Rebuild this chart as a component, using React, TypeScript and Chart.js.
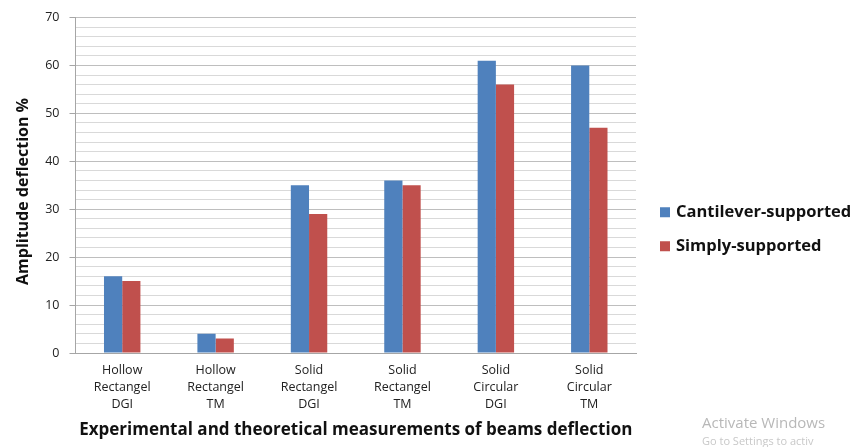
import React, { useEffect, useRef } from "react";
import { Chart, registerables } from "chart.js";

Chart.register(...registerables);

const categories: string[][] = [
  ["Hollow", "Rectangel", "DGI"],
  ["Hollow", "Rectangel", "TM"],
  ["Solid", "Rectangel", "DGI"],
  ["Solid", "Rectangel", "TM"],
  ["Solid", "Circular", "DGI"],
  ["Solid", "Circular", "TM"],
];
const cantilever: number[] = [16, 4, 35, 36, 61, 60];
const simply: number[] = [15, 3, 29, 35, 56, 47];
const seriesNames: string[] = ["Cantilever-supported", "Simply-supported"];
const seriesColors: string[] = ["#4F81BD", "#C0504D"];

const FONT = "'Open Sans', 'Liberation Sans', sans-serif";

const sideLegend = {
  id: "sideLegend",
  afterDraw(chart: any) {
    const ctx = chart.ctx;
    const area = chart.chartArea;
    ctx.save();
    ctx.font = `bold 16.5px ${FONT}`;
    ctx.textBaseline = "middle";
    const x0 = area.right + 24;
    const yc = (area.top + area.bottom) / 2 + 44;
    const gap = 34;
    chart.data.datasets.forEach((ds: any, i: number) => {
      const y = yc - gap / 2 + i * gap;
      ctx.fillStyle = ds.backgroundColor;
      ctx.fillRect(x0, y - 5, 10, 10);
      ctx.fillStyle = "#111";
      ctx.fillText(ds.label, x0 + 16, y);
    });
    ctx.restore();
  },
};

export default function App() {
  const ref = useRef<HTMLCanvasElement | null>(null);
  useEffect(() => {
    if (!ref.current) return;
    const chart = new Chart(ref.current, {
      type: "bar",
      data: {
        labels: categories,
        datasets: [
          { label: seriesNames[0], data: cantilever, backgroundColor: seriesColors[0] },
          { label: seriesNames[1], data: simply, backgroundColor: seriesColors[1] },
        ],
      },
      plugins: [sideLegend],
      options: {
        responsive: false,
        animation: false,
        devicePixelRatio: 1,
        layout: { padding: { top: 11, left: 14, right: 224, bottom: 8 } },
        datasets: { bar: { categoryPercentage: 0.39, barPercentage: 1.0 } },
        plugins: {
          legend: { display: false },
          tooltip: { enabled: false },
        },
        scales: {
          x: {
            grid: { display: false, drawTicks: false },
            border: { color: "#A6A6A6", width: 1 },
            ticks: {
              color: "#222",
              font: { family: FONT, size: 12.5, lineHeight: 1.36 },
              maxRotation: 0,
              autoSkip: false,
              padding: 9,
            },
            title: {
              display: true,
              text: "Experimental and theoretical measurements of beams deflection",
              color: "#111",
              font: { family: FONT, size: 17, weight: "bold", lineHeight: 1.0 },
              padding: { top: 0, bottom: 0 },
            },
          },
          y: {
            min: 0,
            max: 70,
            ticks: {
              stepSize: 2,
              autoSkip: false,
              color: "#222",
              font: { family: FONT, size: 12.5 },
              padding: 10,
              callback: (v: any) => (Number(v) % 10 === 0 ? String(v) : ""),
            },
            grid: {
              color: (c: any) => (c.tick && c.tick.value % 10 === 0 ? "#BEBEBE" : "#D9D9D9"),
              tickColor: (c: any) => (c.tick && c.tick.value % 10 === 0 ? "#A6A6A6" : "rgba(0,0,0,0)"),
              tickLength: 6,
              lineWidth: 1,
            },
            border: { color: "#A6A6A6", width: 1 },
            title: {
              display: true,
              text: "Amplitude deflection %   ",
              color: "#111",
              font: { family: FONT, size: 16, weight: "bold" },
              padding: { top: 0, bottom: 2 },
            },
          },
        },
      },
    });
    return () => chart.destroy();
  }, []);
  return (
    <div style={{ position: "fixed", left: 0, top: 0, width: 860, height: 447, background: "#fff" }}>
      <canvas ref={ref} width={860} height={447} />
      <div
        style={{
          position: "absolute",
          left: 702,
          top: 412,
          fontFamily: FONT,
          fontSize: 15,
          color: "#B8B8B8",
          whiteSpace: "nowrap",
        }}
      >
        Activate Windows
      </div>
      <div
        style={{
          position: "absolute",
          left: 702,
          top: 433,
          fontFamily: FONT,
          fontSize: 11,
          color: "#C8C8C8",
          whiteSpace: "nowrap",
        }}
      >
        Go to Settings to activ
      </div>
    </div>
  );
}
